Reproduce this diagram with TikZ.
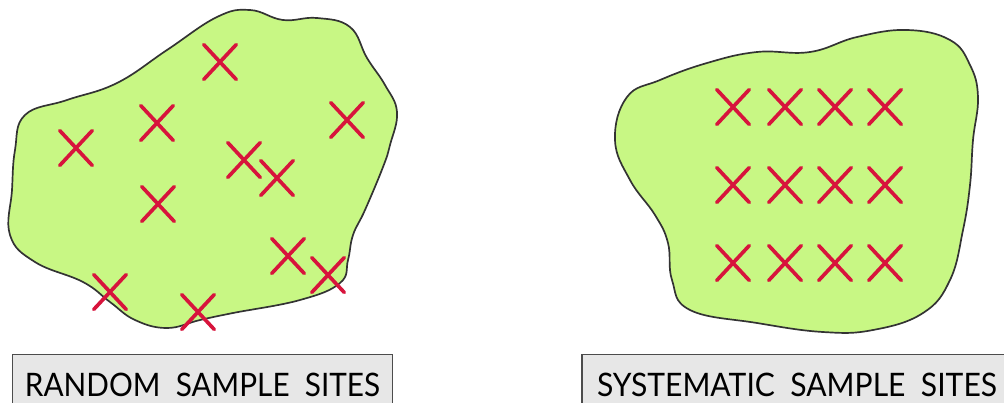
\documentclass[tikz,border=0pt]{standalone}
\usepackage{fontspec}
\setmainfont{Lato}
\usetikzlibrary{shapes.misc}
\definecolor{leaf}{RGB}{200,247,132}
\definecolor{sitered}{RGB}{215,20,60}
\definecolor{boxgray}{RGB}{231,231,231}
\begin{document}
\begin{tikzpicture}[x=0.025cm,y=-0.025cm,
  site/.style={cross out,draw=sitered,line width=2.6pt,line cap=round,
    minimum width=0.72cm,minimum height=0.78cm,inner sep=0pt},
  area/.style={fill=leaf,draw=black!80,line width=1.2pt},
  caption/.style={draw=black!70,fill=boxgray,line width=0.8pt,
    minimum height=1.48cm,font=\fontsize{23}{23}\selectfont}]
\useasboundingbox (0,0) rectangle (1004,402);
% random area
\path[area] plot[smooth cycle,tension=0.7] coordinates {
(250,10) (283,20) (317,18) (350,27) (367,58) (385,85) (397,112) (390,145)
(383,167) (365,210) (353,235) (348,260) (340,283) (300,300) (233,313)
(200,320) (167,328) (135,320) (110,302) (83,282) (35,262) (10,235)
(12,190) (15,150) (25,115) (67,100) (117,83) (167,50) (217,17)};
% systematic area
\path[area] plot[smooth cycle,tension=0.7] coordinates {
(907,30) (950,40) (970,65) (978,97) (973,140) (970,185) (963,230)
(950,280) (923,313) (873,330) (823,332) (757,323) (690,310) (672,280)
(668,243) (655,215) (630,180) (615,140) (627,97) (660,80) (707,63)
(757,52) (810,52) (857,37)};
% random sites
\node[site] (r1) at (76,148) {};
\node[site] (r2) at (157,123) {};
\node[site] (r3) at (220,62) {};
\node[site] (r4) at (244,160) {};
\node[site] (r5) at (277,178) {};
\node[site] (r6) at (158,204) {};
\node[site] (r7) at (347,120) {};
\node[site] (r8) at (288,256) {};
\node[site] (r9) at (328,275) {};
\node[site] (r10) at (110,292) {};
\node[site] (r11) at (198,312) {};
% systematic sites
\foreach \c/\x in {1/733,2/785,3/835,4/885}
  \foreach \r/\y in {1/107,2/185,3/263}
    \node[site] (s\r\c) at (\x,\y) {};
% captions
\node[caption,minimum width=9.5cm] (rlabel) at (202.5,384.5)
  {\scalebox{0.92}[1]{RANDOM\ \ SAMPLE\ \ SITES}};
\node[caption,minimum width=10.75cm] (slabel) at (797,384.5)
  {\scalebox{0.93}[1]{SYSTEMATIC\ \ SAMPLE\ \ SITES}};
\end{tikzpicture}
\end{document}
